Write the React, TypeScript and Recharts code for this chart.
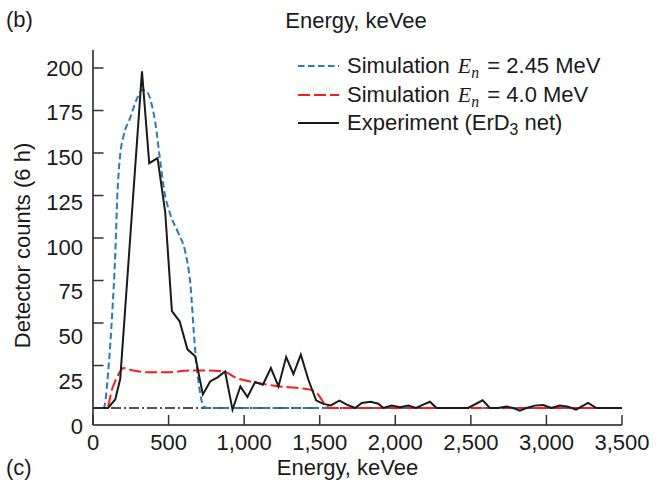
import { LineChart, Line, XAxis, YAxis, ReferenceLine, Label } from 'recharts'

// energies in keVee, counts per 6 h
const sim245Energy = [0, 70, 103, 126, 147, 161, 180, 202, 247, 291, 324, 357, 390, 412, 445, 471, 511, 564, 610, 643, 676, 705, 731, 755, 3500]
const sim245Counts = [0, 0, 24, 54, 90, 125, 149, 160, 171, 182, 187, 186, 178, 168, 145, 128, 114, 103, 92, 74, 34, 11, 1, 0, 0]

const sim40Energy = [0, 92, 126, 159, 202, 268, 377, 487, 643, 753, 863, 951, 1017, 1238, 1436, 1480, 1547, 1569, 3500]
const sim40Counts = [0, 0, 11, 18, 23.5, 22, 21, 21, 22, 22, 21.5, 17.6, 16, 12.7, 10.8, 8.8, 1, 0, 0]

const expEnergy = [
  0, 100, 147, 180, 324, 372, 427, 478, 522, 573, 625, 676, 727, 775, 824, 874,
  923, 975, 1022, 1073, 1124, 1177, 1227, 1278, 1326, 1375, 1425, 1476, 1524, 1573, 1630, 1679,
  1734, 1778, 1837, 1888, 1921, 1976, 2031, 2086, 2137, 2185, 2229, 2273, 2482, 2578, 2626, 2681,
  2736, 2780, 2824, 2868, 2923, 2978, 3033, 3088, 3143, 3196, 3275, 3331, 3430, 3500,
]
const expCounts = [
  0, 0, 5, 17, 198, 144, 147, 115, 57, 51, 34.5, 30.5, 8, 15.6, 18, 21.5,
  -1, 12.7, 6.5, 15.3, 13.7, 23.5, 12.7, 30, 20, 31.4, 16.6, 4.5, 2.4, 1.5, 4.3, 2,
  0, 3, 3.7, 2.5, 0, 1.4, 0.4, 1.4, 0, 2, 3.7, 0, 0, 4.5, 0, 0,
  0.8, 0, -1.6, 0, 1.4, 1.8, 0, 1.4, 0.8, -1, 3, 0, 0, 0,
]

const xTicks = [0, 500, 1000, 1500, 2000, 2500, 3000, 3500]
const yTicks = [0, 25, 50, 75, 100, 125, 150, 175, 200]

const toPoints = (e: number[], c: number[]) => e.map((x, i) => ({ e: x, v: c[i] }))

const sim245Data = toPoints(sim245Energy, sim245Counts)
const sim40Data = toPoints(sim40Energy, sim40Counts)
const expData = toPoints(expEnergy, expCounts)

const FONT = '"Liberation Sans", Arial, sans-serif'
const INK = '#1a1a1a'
const BLUE = '#2a7ab9'
const RED = '#ff1a1a'

function XTick({ x, y, payload }: any) {
  return (
    <g>
      <line x1={x} x2={x} y1={y} y2={y - 10} stroke="#333" strokeWidth={1.5} />
      <text x={x} y={y + 17} textAnchor="middle" dominantBaseline="central" fontSize={22} fill={INK} fontFamily={FONT}>
        {payload.value.toLocaleString('en-US')}
      </text>
    </g>
  )
}

function YTick({ x, y, payload }: any) {
  // the printed labels sit a little lower than their ticks towards the bottom
  const drift = ((200 - payload.value) / 25) * 2.25
  return (
    <g>
      <line x1={x} x2={x + 10.5} y1={y} y2={y} stroke="#333" strokeWidth={1.5} />
      <text x={x - 10} y={y + drift} textAnchor="end" dominantBaseline="central" fontSize={22} fill={INK} fontFamily={FONT}>
        {payload.value}
      </text>
    </g>
  )
}

const En = () => (
  <span style={{ fontFamily: '"Liberation Serif", "DejaVu Serif", serif', fontStyle: 'italic', margin: '0 2px' }}>
    E<sub style={{ fontSize: '0.72em', verticalAlign: '-0.3em', lineHeight: 0 }}>n</sub>
  </span>
)

const legendItems = [
  { color: BLUE, dash: '6.5 3.5', label: <>Simulation <En /> = 2.45 MeV</> },
  { color: RED, dash: '12 4', label: <>Simulation <En /> = 4.0 MeV</> },
  {
    color: INK,
    dash: undefined,
    label: (
      <>
        Experiment (ErD<sub style={{ fontSize: '0.72em', verticalAlign: '-0.3em', lineHeight: 0 }}>3</sub> net)
      </>
    ),
  },
]

export default function App() {
  const text = { position: 'absolute' as const, fontFamily: FONT, fontSize: 22, color: INK, lineHeight: '22px', whiteSpace: 'nowrap' as const }
  return (
    <div style={{ position: 'absolute', left: 0, top: 0, width: 663, height: 483, background: '#fff' }}>
      <LineChart width={663} height={483} margin={{ top: 50, right: 41, left: 0, bottom: 0 }}>
        <XAxis
          dataKey="e"
          type="number"
          domain={[0, 3500]}
          ticks={xTicks}
          interval={0}
          height={58}
          tickSize={0}
          tickMargin={0}
          tickLine={false}
          tick={<XTick />}
          axisLine={{ stroke: INK, strokeWidth: 1.5 }}
        >
          <Label value="Energy, keVee" position="insideBottom" offset={8} dx={-10} fontSize={22} fill={INK} fontFamily={FONT} />
        </XAxis>
        <YAxis
          type="number"
          domain={[-10, 210.6]}
          ticks={yTicks}
          interval={0}
          width={93}
          tickSize={0}
          tickMargin={0}
          tickLine={false}
          tick={<YTick />}
          axisLine={{ stroke: INK, strokeWidth: 1.5 }}
        >
          <Label value="Detector counts (6 h)" angle={-90} position="center" dx={-24.5} dy={8} fontSize={22} fill={INK} fontFamily={FONT} />
        </YAxis>
        <ReferenceLine y={0} stroke={INK} strokeWidth={1.5} strokeDasharray="10 3 2 3" />
        <Line data={sim245Data} dataKey="v" type="monotone" stroke={BLUE} strokeWidth={2} strokeDasharray="6.5 3.5" dot={false} isAnimationActive={false} />
        <Line data={sim40Data} dataKey="v" type="monotone" stroke={RED} strokeWidth={2} strokeDasharray="12 4" dot={false} isAnimationActive={false} />
        <Line data={expData} dataKey="v" type="linear" stroke={INK} strokeWidth={2} dot={false} isAnimationActive={false} />
      </LineChart>

      {legendItems.map((item, i) => (
        <div key={i} style={{ ...text, left: 298, top: 52 + i * 28.5, height: 28, display: 'flex', alignItems: 'center', lineHeight: '28px' }}>
          <svg width={41} height={4} style={{ marginRight: 8 }}>
            <line x1={0} x2={41} y1={2} y2={2} stroke={item.color} strokeWidth={2} strokeDasharray={item.dash} />
          </svg>
          <span>{item.label}</span>
        </div>
      ))}

      <div style={{ ...text, left: 6, top: 9 }}>(b)</div>
      <div style={{ ...text, left: 356, top: 10, transform: 'translateX(-50%)' }}>Energy, keVee</div>
      <div style={{ ...text, left: 6, top: 457 }}>(c)</div>
    </div>
  )
}
